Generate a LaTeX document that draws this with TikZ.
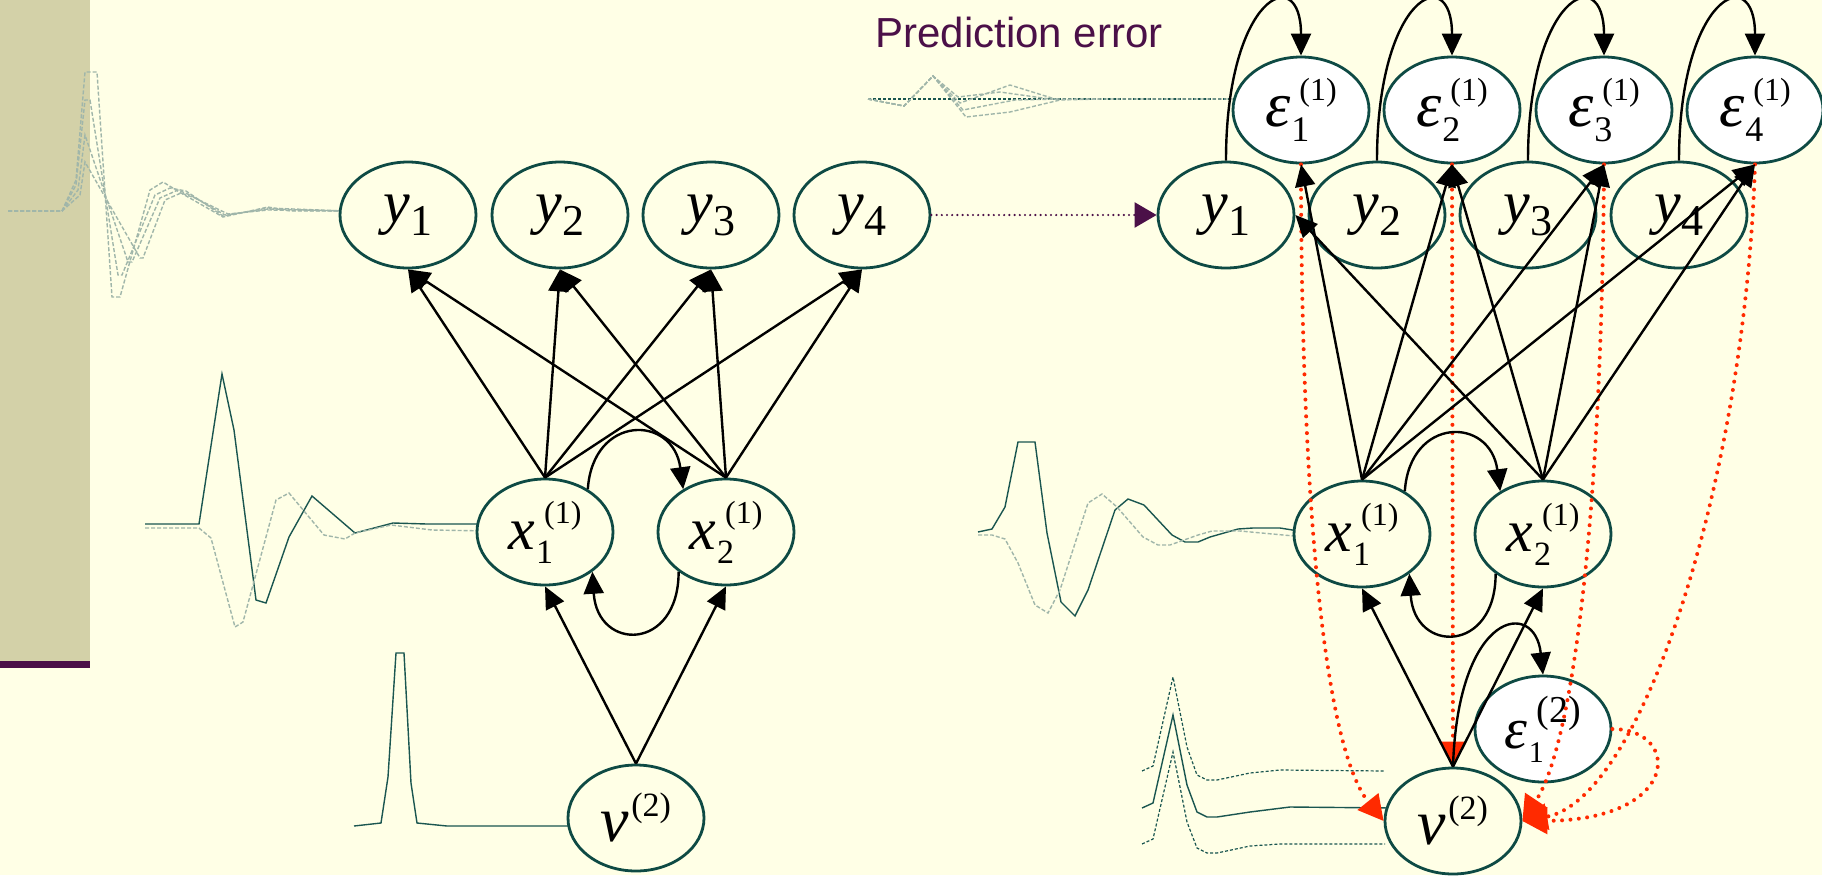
\documentclass[tikz,border=0pt]{standalone}
\usepackage{fontspec}
\setmainfont{Liberation Serif}
\newfontfamily\labelfont{Liberation Sans}
\usetikzlibrary{arrows.meta,shapes.geometric}
\definecolor{bgcol}{RGB}{255,255,230}
\definecolor{bandcol}{RGB}{211,209,168}
\definecolor{bandline}{RGB}{75,14,71}
\definecolor{nodeline}{RGB}{14,74,68}
\definecolor{sigdark}{RGB}{26,86,80}
\definecolor{siglight}{RGB}{160,182,170}
\definecolor{errred}{RGB}{255,42,0}
\definecolor{textpurple}{RGB}{75,16,72}
% sub size, sub, sub drop, sup size, sup, sup rise
\newcommand{\supsub}[6]{\kern0.5pt\rlap{\raisebox{-#3}{\fontsize{#1}{#1}\selectfont #2}}\kern4pt\raisebox{#6}{\fontsize{#4}{#4}\selectfont #5}}
\newcommand{\ylab}[1]{{\itshape y}\kern0.5pt\raisebox{-6.5pt}{\fontsize{22}{22}\selectfont #1}}
\newcommand{\xlab}[1]{{\itshape x}\supsub{17}{#1}{7pt}{16}{(1)}{13pt}}
\newcommand{\elab}[1]{{\itshape ε}\supsub{18}{#1}{7.5pt}{16}{(1)}{13pt}}
\newcommand{\vlab}{{\itshape v}\kern1pt\raisebox{12.5pt}{\fontsize{17}{17}\selectfont (2)}}

\begin{document}
\begin{tikzpicture}
[x=0.5pt,y=-0.5pt,
unitnode/.style={ellipse,draw=nodeline,line width=1.4pt,fill=bgcol,minimum width=68pt,minimum height=53pt,inner sep=0pt},
obs/.style={unitnode,font=\fontsize{30}{30}\selectfont},
hid/.style={unitnode,font=\fontsize{30}{30}\selectfont},
cause/.style={unitnode,font=\fontsize{32}{32}\selectfont},
err/.style={unitnode,fill=white,font=\fontsize{32}{32}\selectfont},
err two/.style={unitnode,fill=white,font=\fontsize{29}{29}\selectfont},
arr/.style={-{Triangle[length=11pt,width=10pt]},line width=1.2pt,black},
perr/.style={-{Triangle[length=12.5pt,width=13pt]},line width=2pt,errred,dash pattern=on 0pt off 4.2pt,line cap=round},
relay/.style={-{Triangle[length=11pt,width=12.5pt]},line width=1.2pt,textpurple,dash pattern=on 0pt off 2.6pt,line cap=round},
sig/.style={line width=0.7pt,sigdark},
sig faint/.style={line width=0.7pt,siglight,dash pattern=on 2pt off 1pt},
sig dash/.style={line width=0.6pt,sigdark,dash pattern=on 1.5pt off 1pt}]

\useasboundingbox (0,0) rectangle (1822,875);
\fill[bgcol] (0,0) rectangle (1822,875);
\fill[bandcol] (0,0) rectangle (90,661);
\fill[bandline] (0,661) rectangle (90,668);

% signals
\draw[sig faint] (8,211) -- (62,211) -- (76,180) -- (85,72) -- (97,72) -- (112,297) -- (120,297) -- (150,190) -- (163,182) -- (181,193) -- (223,217) -- (268,207) -- (290,211) -- (345,211);
\draw[sig faint] (8,211) -- (62,211) -- (76,185) -- (85,100) -- (90,100) -- (118,275) -- (122,275) -- (155,195) -- (170,188) -- (186,191) -- (223,216) -- (268,208) -- (345,211);
\draw[sig faint] (8,211) -- (62,211) -- (78,190) -- (85,135) -- (128,262) -- (132,262) -- (160,198) -- (178,190) -- (190,195) -- (225,215) -- (268,209) -- (345,211);
\draw[sig faint] (8,211) -- (62,211) -- (80,195) -- (85,162) -- (140,258) -- (143,258) -- (165,200) -- (181,193) -- (195,198) -- (228,214) -- (268,210) -- (345,211);
\draw[sig] (145,524) -- (199,524) -- (222,374) -- (234,430) -- (256,600) -- (266,603) -- (289,537) -- (312,496) -- (355,533) -- (393,523) -- (427,524) -- (490,524);
\draw[sig faint] (145,528) -- (199,528) -- (211,538) -- (235,627) -- (243,622) -- (276,500) -- (289,493) -- (324,535) -- (345,539) -- (355,533) -- (391,525) -- (432,530) -- (490,531);
\draw[sig] (354,826) -- (381,823) -- (388,777) -- (396,653) -- (404,653) -- (411,783) -- (417,823) -- (447,826) -- (580,826);
\draw[sig dash] (868,99) -- (1240,99);
\draw[sig faint] (868,99) -- (904,106) -- (933,76) -- (958,97) -- (1000,92) -- (1050,99) -- (1240,99);
\draw[sig faint] (868,99) -- (904,106) -- (933,76) -- (960,103) -- (1010,85) -- (1055,99);
\draw[sig faint] (868,99) -- (904,106) -- (933,76) -- (963,110) -- (1015,100) -- (1060,99);
\draw[sig faint] (868,99) -- (904,106) -- (933,76) -- (966,117) -- (1010,112) -- (1060,100) -- (1100,99);
\draw[sig] (978,532) -- (992,529) -- (1005,507) -- (1018,442) -- (1035,442) -- (1047,533) -- (1061,602) -- (1075,616) -- (1088,590) -- (1115,510) -- (1128,499) -- (1144,505) -- (1172,535) -- (1185,542) -- (1198,542) -- (1210,537) -- (1238,529) -- (1253,528) -- (1280,528) -- (1305,532);
\draw[sig faint] (978,535) -- (992,535) -- (1005,539) -- (1018,563) -- (1035,605) -- (1048,613) -- (1060,590) -- (1088,503) -- (1102,494) -- (1117,507) -- (1143,537) -- (1158,545) -- (1170,545) -- (1198,535) -- (1212,531) -- (1240,531) -- (1305,537);
\draw[sig dash] (1142,771) -- (1153,766) -- (1173,677) -- (1187,747) -- (1197,775) -- (1207,780) -- (1217,780) -- (1250,773) -- (1280,770) -- (1385,771);
\draw[sig] (1142,808) -- (1153,803) -- (1173,715) -- (1187,785) -- (1197,812) -- (1207,817) -- (1217,817) -- (1250,812) -- (1290,807) -- (1392,808);
\draw[sig dash] (1142,844) -- (1153,839) -- (1173,752) -- (1187,822) -- (1197,848) -- (1207,853) -- (1217,853) -- (1250,846) -- (1280,844) -- (1385,844);

\node[font=\labelfont\fontsize{21}{21}\selectfont,text=textpurple,anchor=base west,inner sep=0pt] (errtitle) at (875,47) {Prediction error};

% left network
\node[obs] (ly1) at (408,215) {\ylab{1}};
\node[obs] (ly2) at (560,215) {\ylab{2}};
\node[obs] (ly3) at (711,215) {\ylab{3}};
\node[obs] (ly4) at (862,215) {\ylab{4}};
\node[hid] (lx1) at (545,532) {\xlab{1}};
\node[hid] (lx2) at (726,532) {\xlab{2}};
\node[cause] (lv) at (636,818) {\vlab};

% right network
\node[obs] (ry1) at (1226,215) {\ylab{1}};
\node[obs] (ry2) at (1377,215) {\ylab{2}};
\node[obs] (ry3) at (1528,215) {\ylab{3}};
\node[obs] (ry4) at (1679,215) {\ylab{4}};
\node[err] (e1) at (1301,110) {\elab{1}};
\node[err] (e2) at (1452,110) {\elab{2}};
\node[err] (e3) at (1604,110) {\elab{3}};
\node[err] (e4) at (1755,110) {\elab{4}};
\node[hid] (rx1) at (1362,534) {\xlab{1}};
\node[hid] (rx2) at (1543,534) {\xlab{2}};
\node[err two] (re2) at (1543,729) {{\itshape ε}\supsub{15}{1}{7pt}{19}{(2)}{13pt}};
\node[cause] (rv) at (1453,821) {\vlab};

\path [arr] (lx1.north) edge (ly1.south);
\path [arr] (lx1.north) edge (ly2.south);
\path [arr] (lx1.north) edge (ly3.south);
\path [arr] (lx1.north) edge (ly4.south);
\path [arr] (lx2.north) edge (ly1.south);
\path [arr] (lx2.north) edge (ly2.south);
\path [arr] (lx2.north) edge (ly3.south);
\path [arr] (lx2.north) edge (ly4.south);
\path [arr] (lv.north) edge (lx1.south);
\path [arr] (lv.north) edge (lx2.south);
\draw [arr] (lx1.45) .. controls +(5,-75) and +(-10,-75) .. (lx2.135);
\draw [arr] (lx2.-140) .. controls +(0,80) and +(5,80) .. (lx1.-40);

\path [relay] (ly4.east) edge (ry1.west);

% prediction errors
\draw [perr] (e1.south) .. controls +(0,287) and +(-65,-81) .. (rv.west);
\draw [perr] (e2.south) -- (rv.north);
\draw [perr] (e3.south) .. controls +(-2,337) and +(52,-78) .. (rv.east);
\draw [perr] (e4.south) .. controls +(-10,317) and +(119,-21) .. (rv.east);
\draw [perr] (re2.east) .. controls +(69,0) and +(159,-1) .. (rv.east);

\path [arr] (rx1.north) edge (e1.south);
\path [arr] (rx1.north) edge (e2.south);
\path [arr] (rx1.north) edge (e3.south);
\path [arr] (rx1.north) edge (e4.south);
\path [arr] (rx2.north) edge (ry1.east);
\path [arr] (rx2.north) edge (e2.south);
\path [arr] (rx2.north) edge (e3.south);
\path [arr] (rx2.north) edge (e4.south);
\path [arr] (rv.north) edge (rx1.south);
\path [arr] (rv.north) edge (rx2.south);
\draw [arr] (rx1.45) .. controls +(5,-75) and +(-10,-75) .. (rx2.135);
\draw [arr] (rx2.-140) .. controls +(0,80) and +(5,80) .. (rx1.-40);
\draw [arr] (rv.north) .. controls +(5,-157) and +(-8,-76) .. (re2.north);
\draw [arr] (ry1.north) .. controls +(0,-165) and +(0,-95) .. (e1.north);
\draw [arr] (ry2.north) .. controls +(0,-165) and +(0,-95) .. (e2.north);
\draw [arr] (ry3.north) .. controls +(0,-165) and +(0,-95) .. (e3.north);
\draw [arr] (ry4.north) .. controls +(0,-165) and +(0,-95) .. (e4.north);
\end{tikzpicture}
\end{document}
